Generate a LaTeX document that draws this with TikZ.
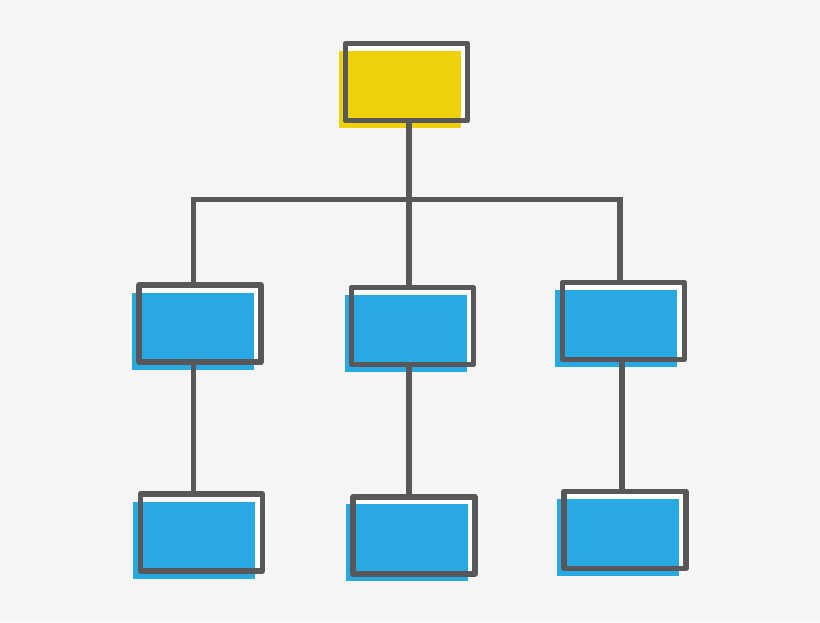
\documentclass[tikz,border=0pt]{standalone}
\usepackage{xcolor}
\usepackage{tikz}

\definecolor{bggrey}{HTML}{F5F5F5}
\definecolor{linegrey}{HTML}{58585A}
\definecolor{chartyellow}{HTML}{EDD20B}
\definecolor{chartblue}{HTML}{29A9E1}

\tikzset{
    chart box/.style={minimum width=122pt, minimum height=77pt, inner sep=0pt,
        fill=white,
        postaction={fill=#1, transform canvas={shift={(-7pt,-7.5pt)}}},
        postaction={draw=linegrey, line width=5.5pt, line join=round}},
    link/.style={draw=linegrey, line width=5.5pt},
}

\begin{document}
\begin{tikzpicture}[x=1pt, y=-1pt]
        \fill[bggrey] (0,0) rectangle (820,622);
        \useasboundingbox (0,0) rectangle (820,622);

        \node[chart box=chartyellow] (root) at (406.5,82)  {};
        \node[chart box=chartblue]   (a1)   at (200,323.5) {};
        \node[chart box=chartblue]   (a2)   at (412.7,326) {};
        \node[chart box=chartblue]   (a3)   at (623.3,321) {};
        \node[chart box=chartblue]   (b1)   at (201.3,532.5) {};
        \node[chart box=chartblue]   (b2)   at (414,535.3) {};
        \node[chart box=chartblue]   (b3)   at (625,530)   {};

        \coordinate (hub) at (409,199.5);
        \coordinate (l)   at (193.5,199.5);
        \coordinate (r)   at (620,199.5);

        \draw[link] (root.south -| hub) -- (hub);
        \draw[link] (a1.north -| l) |- (hub) -| (a3.north -| r);
        \draw[link] (hub) -- (a2.north -| hub);

        \draw[link] (a1.south -| l)   -- (b1.north -| l);
        \draw[link] (a2.south -| hub) -- (b2.north -| hub);
        \draw[link] ([xshift=2pt]a3.south -| r) -- ([xshift=2pt]b3.north -| r);
\end{tikzpicture}
\end{document}
